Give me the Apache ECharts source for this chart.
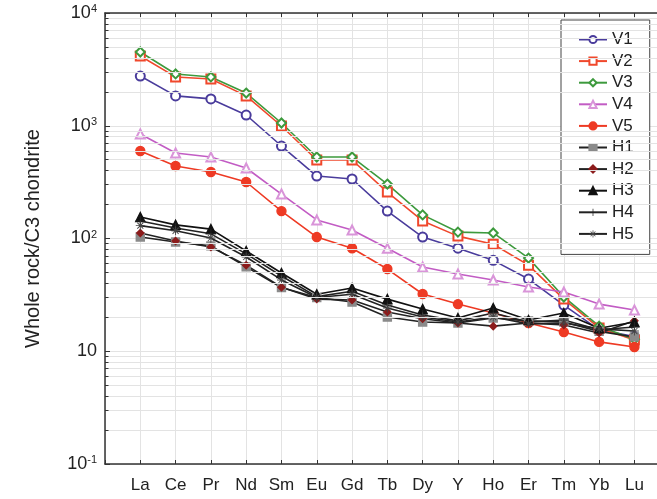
<!DOCTYPE html>
<html>
<head>
<meta charset="utf-8">
<script src="https://cdn.jsdelivr.net/npm/echarts@6/dist/echarts.min.js"></script>
<style>
  html, body { margin: 0; padding: 0; background: #fff; }
  #chart { width: 657px; height: 499px; }
</style>
</head>
<body>
<div id="chart"></div>
<script>
// REE pattern, normalised to C3 chondrite
const categories = ['La', 'Ce', 'Pr', 'Nd', 'Sm', 'Eu', 'Gd', 'Tb', 'Dy', 'Y', 'Ho', 'Er', 'Tm', 'Yb', 'Lu'];

const V1 = [2760, 1840, 1730, 1245, 661, 358, 337, 175, 103, 82, 64, 43.7, 25.7, 15.5, 13.5];
const V2 = [4160, 2710, 2600, 1840, 995, 497, 497, 258, 143, 105, 89, 58, 29, 16.1, 12.6];
const V3 = [4510, 2880, 2710, 1950, 1058, 528, 528, 304, 162, 114, 112, 67, 30.3, 16.7, 12.8];
const V4 = [845, 573, 528, 422, 248, 146, 119, 82, 55.9, 48.4, 42.9, 37.1, 33.5, 26.2, 23.2];
const V5 = [597, 440, 389, 317, 175, 103, 82, 53.6, 32.2, 26.2, 21.8, 17.8, 14.8, 12.1, 10.9];
const H1 = [103, 93, 86, 56, 36.7, 30, 27.3, 20.1, 18.2, 17.8, 19.7, 18.6, 18.2, 15, 13.4];
const H2 = [112, 95, 84, 58, 37, 29, 28.5, 22.3, 19.4, 17.8, 16.7, 17.8, 17.1, 14.5, 18.6];
const H3 = [155, 132, 121, 77.5, 49.4, 32, 36.4, 29, 23.7, 19.7, 24.2, 18.9, 21.8, 16, 18.2];
const H4 = [143, 124, 110, 73, 46.5, 30.5, 34, 25.7, 21, 18.6, 21.8, 18.2, 18.9, 15.5, 16.4];
const H5 = [130, 117, 101, 68.5, 42.9, 30, 32, 24.2, 20.1, 18.2, 20.1, 17.5, 17.8, 15.8, 15.1];

// y axis tick labels (the bottom one reads 10^-1 in the original)
const yTickLabels = { 1: '10{s|-1}', 10: '10', 100: '10{s|2}', 1000: '10{s|3}', 10000: '10{s|4}' };

const font = 'Liberation Sans, Arial, sans-serif';
const plusPath = 'path://M4.5,0h1v4.5h4.5v1h-4.5v4.5h-1v-4.5h-4.5v-1h4.5z';
const starPath = 'path://M4.5,0h1v10h-1z M0,4.5h10v1h-10z M1.3,2L2,1.3L8.7,8L8,8.7z M8,1.3L8.7,2L2,8.7L1.3,8z';

// minor log gridlines 2..9 in every decade
const minorVals = [];
[1, 10, 100, 1000].forEach(d => { for (let k = 2; k <= 9; k++) minorVals.push(k * d); });

const chart = echarts.init(document.getElementById('chart'));

function mk(name, values, color, symbol, size, symColor, bw) {
  return {
    name: name,
    type: 'line',
    data: values.map((v, i) => [i + 1, v]),
    symbol: symbol,
    symbolSize: size,
    z: 3,
    lineStyle: { color: color, width: 1.6 },
    itemStyle: { color: symColor || color, borderColor: symColor || color, borderWidth: bw == null ? 1.4 : bw },
    emphasis: { disabled: true }
  };
}

const series = [
  {
    name: 'grid',
    type: 'line',
    data: [],
    z: 1,
    silent: true,
    markLine: {
      silent: true,
      symbol: 'none',
      animation: false,
      label: { show: false },
      lineStyle: { color: '#e3e3e3', width: 1, type: 'solid' },
      data: minorVals.map(v => ({ yAxis: v }))
    }
  },
  {
    name: 'ticks',
    type: 'line',
    data: [],
    z: 2,
    silent: true,
    markLine: {
      silent: true,
      symbol: 'none',
      animation: false,
      label: { show: false },
      lineStyle: { color: '#333', width: 1, type: 'solid' },
      data: minorVals.map(v => [{ coord: [0, v] }, { coord: [0.1, v] }])
    }
  },
  mk('V1', V1, '#4a3c9c', 'emptyCircle', 9),
  mk('V2', V2, '#f0482c', 'emptyRect', 9),
  mk('V3', V3, '#3d9a3d', 'emptyDiamond', 9),
  mk('V4', V4, '#c25cc4', 'emptyTriangle', 9, '#d995d9'),
  mk('V5', V5, '#ee3a24', 'circle', 9),
  mk('H1', H1, '#222', 'rect', 8, '#8a8a8a'),
  mk('H2', H2, '#222', 'diamond', 7, '#8c1c1c'),
  mk('H3', H3, '#111', 'triangle', 9),
  mk('H4', H4, '#222', plusPath, 10, '#222', 0),
  mk('H5', H5, '#222', starPath, 9, '#444', 0)
];

chart.setOption({
  animation: false,
  backgroundColor: '#fff',
  textStyle: { fontFamily: font },
  grid: { left: 105, top: 13, right: 0, bottom: 35, containLabel: false },
  legend: {
    data: ['V1', 'V2', 'V3', 'V4', 'V5', 'H1', 'H2', 'H3', 'H4', 'H5'],
    orient: 'vertical',
    left: 561,
    top: 20,
    padding: [11, 16, 12, 17],
    itemWidth: 28,
    itemHeight: 9,
    itemGap: 4.6,
    borderColor: '#444',
    borderWidth: 1,
    backgroundColor: '#fff',
    textStyle: { fontSize: 17, color: '#222', fontFamily: font },
    selectedMode: false
  },
  xAxis: [
    {
      type: 'value',
      min: 0,
      max: 15.64,
      interval: 1,
      axisLine: { lineStyle: { color: '#333', width: 1.5 } },
      axisTick: { inside: true, length: 4, lineStyle: { color: '#333' } },
      splitLine: { show: true, lineStyle: { color: '#e3e3e3', width: 1 } },
      axisLabel: {
        fontSize: 17,
        color: '#222',
        margin: 13,
        showMaxLabel: false,
        formatter: v => categories[v - 1] || ''
      }
    },
    {
      type: 'value',
      position: 'top',
      min: 0,
      max: 15.64,
      interval: 1,
      axisLine: { show: true, lineStyle: { color: '#333', width: 1.5 } },
      axisTick: { show: true, inside: true, length: 4, lineStyle: { color: '#333' } },
      splitLine: { show: false },
      axisLabel: { show: false }
    }
  ],
  yAxis: {
    type: 'log',
    logBase: 10,
    min: 1,
    max: 10000,
    name: 'Whole rock/C3 chondrite',
    nameLocation: 'middle',
    nameGap: 62,
    nameTextStyle: { fontSize: 20, color: '#222', fontFamily: font },
    axisLine: { show: true, lineStyle: { color: '#333', width: 1.5 } },
    axisTick: { inside: true, length: 5, lineStyle: { color: '#333' } },
    splitLine: { show: true, lineStyle: { color: '#e3e3e3', width: 1 } },
    axisLabel: {
      color: '#222',
      margin: 8,
      formatter: v => yTickLabels[Math.round(v)] || '',
      rich: {
        s: { fontSize: 11, verticalAlign: 'top', padding: [0, 0, 8, 0], color: '#222' }
      },
      fontSize: 18
    }
  },
  series: series
});
</script>
</body>
</html>
